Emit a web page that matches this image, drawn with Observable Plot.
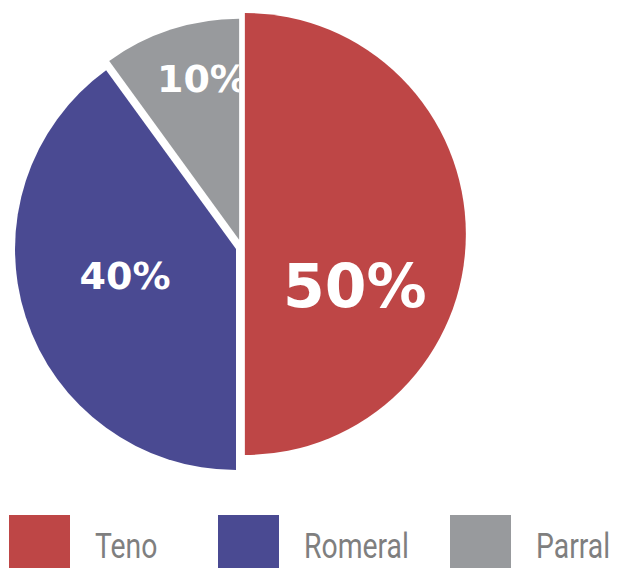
<!DOCTYPE html>
<html>
<head>
<meta charset="utf-8">
<script src="https://cdn.jsdelivr.net/npm/d3@7"></script>
<script src="https://cdn.jsdelivr.net/npm/@observablehq/plot@0.6"></script>
<style>
  html, body { margin: 0; padding: 0; background: #fff; overflow: hidden; }
  #chart svg { display: block; }
  #legend { position: relative; height: 78px; width: 618px; }
  .item { position: absolute; top: 25px; display: flex; align-items: flex-start; white-space: nowrap; }
  .sw { width: 61px; height: 53px; flex: none; }
  .lab { display: inline-block; font-family: Roboto, "Noto Sans", sans-serif; font-weight: 400;
         font-size: 35px; color: #7f7f7f; margin-left: 25px; line-height: 30px; padding-top: 17px;
         transform: scaleX(0.81); transform-origin: 0 0; }
</style>
</head>
<body>
<div id="chart"></div>
<div id="legend"></div>
<script>
// ---- data ----
const categories = ["Teno", "Romeral", "Parral"];
const values = [50, 40, 10];
const labels = ["50%", "40%", "10%"];
const colors = ["#be4646", "#4a4a92", "#989a9d"];

// ---- styling constants ----
const sliceShift = [[0.022, 0.036], [-0.018, -0.032], [-0.004, 0.01]]; // per-slice explode (unit coords)
const labelPos = [[0.52, -0.195], [-0.52, -0.15], [-0.17, 0.74]];     // label anchors (unit coords)
const labelSize = [60, 38, 38];
const legendLeft = [9, 218, 450];

const data = categories.map((c, i) => ({category: c, value: values[i], label: labels[i], color: colors[i]}));
const arcs = d3.pie().sort(null).value(d => d.value)(data);

const W = 618, H = 490, cx = 240, cy = 242, R = 221;

function pieMark(index, scales) {
  const g = d3.create("svg:g");
  const r = scales.x(1) - scales.x(0);
  const defs = g.append("defs");
  arcs.forEach((a, i) => {
    const ox = scales.x(sliceShift[i][0]);
    const oy = scales.y(sliceShift[i][1]);
    const path = d3.arc().innerRadius(0).outerRadius(r)(a);
    const id = "clip" + i;
    defs.append("clipPath").attr("id", id)
      .append("path").attr("d", path).attr("transform", `translate(${ox},${oy})`);
    g.append("path")
      .attr("d", path)
      .attr("transform", `translate(${ox},${oy})`)
      .attr("fill", a.data.color);
    g.append("text")
      .attr("clip-path", `url(#${id})`)
      .attr("x", scales.x(labelPos[i][0]))
      .attr("y", scales.y(labelPos[i][1]))
      .attr("text-anchor", "middle")
      .attr("dy", "0.36em")
      .attr("fill", "#fff")
      .attr("font-family", "'DejaVu Sans', sans-serif")
      .attr("font-weight", "bold")
      .attr("font-size", labelSize[i])
      .text(a.data.label);
  });
  return g.node();
}

const chart = Plot.plot({
  width: W,
  height: H,
  margin: 0,
  x: {domain: [-1, 1], range: [cx - R, cx + R], axis: null},
  y: {domain: [-1, 1], range: [cy + R, cy - R], axis: null},
  marks: [pieMark]
});
document.getElementById("chart").appendChild(chart);

const legend = document.getElementById("legend");
data.forEach((d, i) => {
  const item = document.createElement("div");
  item.className = "item";
  item.style.left = legendLeft[i] + "px";
  const sw = document.createElement("div");
  sw.className = "sw";
  sw.style.background = d.color;
  const lab = document.createElement("div");
  lab.className = "lab";
  lab.textContent = d.category;
  item.appendChild(sw);
  item.appendChild(lab);
  legend.appendChild(item);
});
</script>
</body>
</html>
